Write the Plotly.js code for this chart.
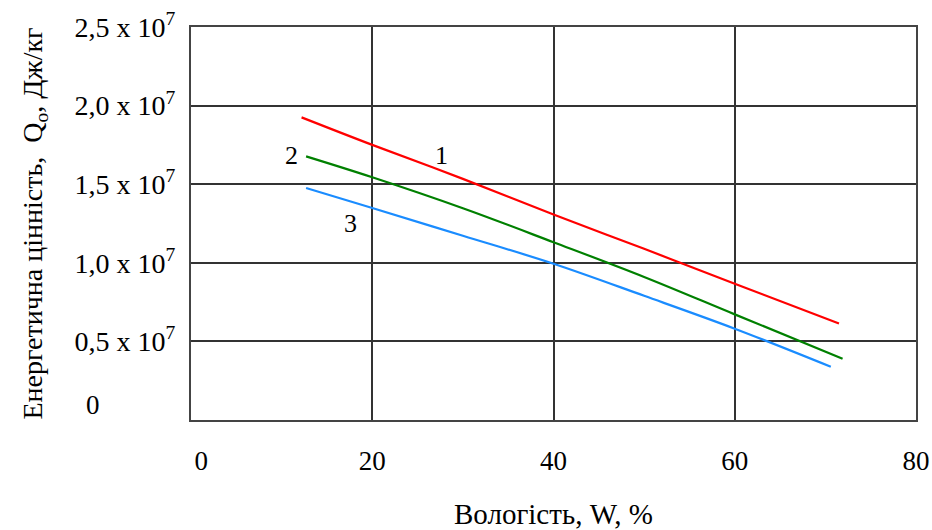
<!DOCTYPE html>
<html>
<head>
<meta charset="utf-8">
<script src="https://cdn.plot.ly/plotly-3.0.1.min.js"></script>
<style>html,body{margin:0;padding:0;background:#fff;}#chart{width:932px;height:530px;}</style>
</head>
<body>
<div id="chart"></div>
<script>
// Data
const x1 = [12.2, 20, 30, 40, 50, 60, 71.5];
const y1 = [1.925e7, 1.750e7, 1.534e7, 1.307e7, 1.089e7, 0.867e7, 0.614e7];
const x2 = [12.7, 20, 30, 40, 50, 60, 71.9];
const y2 = [1.677e7, 1.544e7, 1.347e7, 1.131e7, 0.910e7, 0.672e7, 0.390e7];
const x3 = [12.7, 20, 30, 40, 50, 60, 70.6];
const y3 = [1.476e7, 1.349e7, 1.172e7, 0.994e7, 0.790e7, 0.581e7, 0.339e7];

const xTickVals = [0, 20, 40, 60, 80];
const xTickText = ['\u00a0\u00a0\u00a00', '20', '40', '60', '80'];
const yTickVals = [0.5e7, 1.0e7, 1.5e7, 2.0e7, 2.5e7];
const yTickText = ['0,5 x 10<sup>7</sup>', '1,0 x 10<sup>7</sup>', '1,5 x 10<sup>7</sup>', '2,0 x 10<sup>7</sup>', '2,5 x 10<sup>7</sup>'];
const yZeroLabel = '0';

const curveLabels = ['1', '2', '3'];
const labelX = [27.6, 11.1, 17.6];
const labelY = [1.68e7, 1.68e7, 1.25e7];

const serif = 'Liberation Serif, Times New Roman, serif';

const traces = [
  {x: x1, y: y1, mode: 'lines', line: {color: '#ff0000', width: 2.2, shape: 'spline', smoothing: 1}, name: '1'},
  {x: x2, y: y2, mode: 'lines', line: {color: '#008000', width: 2.2, shape: 'spline', smoothing: 1}, name: '2'},
  {x: x3, y: y3, mode: 'lines', line: {color: '#1a8cff', width: 2.2, shape: 'spline', smoothing: 1}, name: '3'}
];

const annotations = curveLabels.map((t, i) => ({
  x: labelX[i], y: labelY[i], xref: 'x', yref: 'y', text: t, showarrow: false,
  font: {family: serif, size: 26, color: '#000'}
}));
// stray "0" label of the value axis, placed as in the reference (pixel 93, 405)
annotations.push({
  x: (93 - 191) / (932 - 191 - 16), y: (420 - 405) / (420 - 27),
  xref: 'paper', yref: 'paper', xanchor: 'center', yanchor: 'middle',
  text: yZeroLabel, showarrow: false,
  font: {family: serif, size: 27, color: '#000'}
});

const layout = {
  width: 932, height: 530,
  margin: {l: 191, r: 16, t: 27, b: 110},
  paper_bgcolor: '#fff', plot_bgcolor: '#fff',
  showlegend: false,
  font: {family: serif, color: '#000'},
  xaxis: {
    range: [0, 80], tickvals: xTickVals, ticktext: xTickText,
    showgrid: true, gridcolor: '#333', gridwidth: 1.5,
    zeroline: false, showline: true, linecolor: '#444', linewidth: 2, mirror: true,
    ticks: '', ticklabelstandoff: 16,
    tickfont: {family: serif, size: 27, color: '#000'},
    title: {text: 'Вологість, W, %', font: {family: serif, size: 29, color: '#000'}, standoff: 28}
  },
  yaxis: {
    range: [0, 2.5e7], tickvals: yTickVals, ticktext: yTickText,
    showgrid: true, gridcolor: '#333', gridwidth: 1.5,
    zeroline: false, showline: true, linecolor: '#444', linewidth: 2, mirror: true,
    ticks: '', ticklabelstandoff: 8,
    tickfont: {family: serif, size: 28, color: '#000'},
    title: {text: 'Енергетична цінність,  Q<sub>o</sub>, Дж/кг', font: {family: serif, size: 28, color: '#000'}, standoff: 24}
  },
  annotations: annotations
};

Plotly.newPlot('chart', traces, layout, {displayModeBar: false});
</script>
</body>
</html>
